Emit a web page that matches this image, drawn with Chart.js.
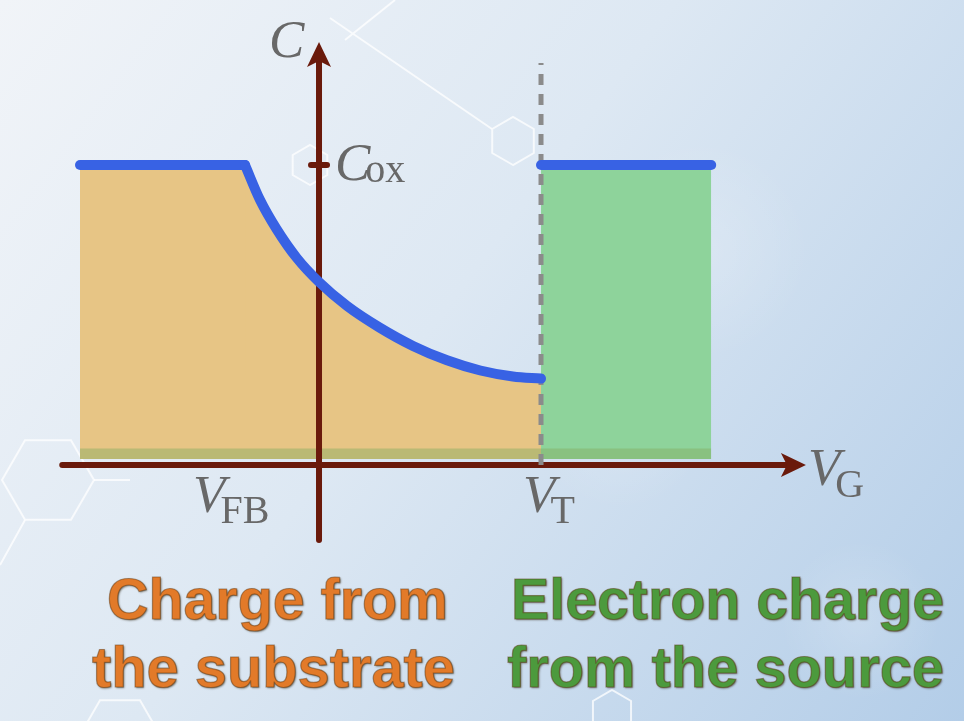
<!DOCTYPE html>
<html>
<head>
<meta charset="utf-8">
<script src="https://cdn.jsdelivr.net/npm/chart.js@4/dist/chart.umd.min.js"></script>
<style>
  html, body { margin: 0; padding: 0; overflow: hidden; background: #dfe9f3; }
  #cv { display: block; }
</style>
</head>
<body>
<canvas id="cv" width="964" height="721"></canvas>
<script>
// gate voltage positions (arbitrary units) and normalised capacitance C / Cox
const V_FB = -1.0;
const V_T = 3.0;
const C_OX = 1.0;

// accumulation plateau
const vgAccum = [-3.23, -1.0];
const cAccum = [1.0, 1.0];

// depletion curve
const vgDepl = [-1.0, -0.8, -0.57, -0.3, 0.0, 0.38, 0.82, 1.27, 1.73, 2.18, 2.62, 3.0];
const cDepl = [1.0, 0.885, 0.785, 0.69, 0.61, 0.53, 0.458, 0.397, 0.349, 0.315, 0.295, 0.288];

// inversion plateau (electrons from the source)
const vgInv = [3.0, 5.3];
const cInv = [1.0, 1.0];

const tickLabels = [
    { value: V_FB, main: 'V', sub: 'FB', dx: -52 },
    { value: V_T, main: 'V', sub: 'T', dx: -18 }
];
const captionLeft = ['Charge from', 'the substrate'];
const captionRight = ['Electron charge', 'from the source'];

const pts = (xs, ys) => xs.map((x, i) => ({ x: x, y: ys[i] }));

const AXIS = '#6a1a0b';
const MATH = '#686868';

const drawHex = (ctx, cx, cy, r, rot) => {
    ctx.beginPath();
    for (let i = 0; i < 6; i++) {
        const a = rot + i * Math.PI / 3;
        const px = cx + r * Math.cos(a), py = cy + r * Math.sin(a);
        if (i === 0) ctx.moveTo(px, py); else ctx.lineTo(px, py);
    }
    ctx.closePath();
    ctx.stroke();
};

const drawMath = (ctx, main, sub, x, base, subDy) => {
    ctx.fillStyle = MATH;
    ctx.textBaseline = 'alphabetic';
    ctx.textAlign = 'left';
    ctx.font = 'italic 53px "Liberation Serif", "DejaVu Serif", serif';
    ctx.fillText(main, x, base);
    const w = ctx.measureText(main).width;
    if (sub) {
        ctx.font = '40px "Liberation Serif", "DejaVu Serif", serif';
        ctx.fillText(sub, x + w - 5, base + subDy);
    }
};

const drawCaption = (ctx, text, left, right, base, color) => {
    ctx.save();
    ctx.font = 'bold 57px "Liberation Sans", Arial, sans-serif';
    const w = ctx.measureText(text).width;
    ctx.translate(left, base);
    ctx.scale((right - left) / w, 1);
    ctx.textAlign = 'left';
    ctx.textBaseline = 'alphabetic';
    ctx.shadowColor = 'rgba(40,30,10,0.6)';
    ctx.shadowBlur = 2;
    ctx.shadowOffsetX = 1;
    ctx.shadowOffsetY = 1;
    ctx.fillStyle = color;
    ctx.fillText(text, 0, 0);
    ctx.shadowColor = 'transparent';
    ctx.lineWidth = 1.2;
    ctx.strokeStyle = 'rgba(90,50,10,0.45)';
    ctx.strokeText(text, 0, 0);
    ctx.restore();
};

const decor = {
    id: 'decor',
    beforeDraw: (chart) => {
        const ctx = chart.ctx;
        const W = chart.width, H = chart.height;
        ctx.save();
        const g = ctx.createLinearGradient(0, 0, W, H);
        g.addColorStop(0, '#f1f4f8');
        g.addColorStop(0.45, '#dde8f3');
        g.addColorStop(1, '#b3cde8');
        ctx.fillStyle = g;
        ctx.fillRect(0, 0, W, H);
        // soft light spots
        [[700, 250, 110], [620, 420, 90], [860, 620, 80]].forEach(([x, y, r]) => {
            const rg = ctx.createRadialGradient(x, y, 0, x, y, r);
            rg.addColorStop(0, 'rgba(255,255,255,0.18)');
            rg.addColorStop(1, 'rgba(255,255,255,0)');
            ctx.fillStyle = rg;
            ctx.fillRect(x - r, y - r, 2 * r, 2 * r);
        });
        // faint hexagon network
        ctx.strokeStyle = 'rgba(255,255,255,0.75)';
        ctx.lineWidth = 2;
        drawHex(ctx, 513, 141, 24, Math.PI / 2);
        ctx.beginPath();
        ctx.moveTo(330, 18); ctx.lineTo(492, 129);
        ctx.moveTo(345, 40); ctx.lineTo(395, 0);
        ctx.stroke();
        drawHex(ctx, 310, 165, 20, Math.PI / 2);
        drawHex(ctx, 48, 480, 46, 0);
        ctx.beginPath();
        ctx.moveTo(94, 480); ctx.lineTo(130, 480);
        ctx.moveTo(25, 520); ctx.lineTo(0, 565);
        ctx.stroke();
        drawHex(ctx, 120, 735, 40, 0);
        drawHex(ctx, 612, 712, 22, Math.PI / 2);
        ctx.restore();
    },
    afterDatasetDraw: (chart, args) => {
        if (chart.data.datasets[args.index].label !== 'strip') return;
        // axes go above the filled areas but under the curve
        const ctx = chart.ctx;
        const xs = chart.scales.x, ys = chart.scales.y;
        const x0 = xs.getPixelForValue(0), y0 = ys.getPixelForValue(0);
        const xL = xs.getPixelForValue(-3.47), xTip = xs.getPixelForValue(6.58);
        const yB = ys.getPixelForValue(-0.25), yTip = ys.getPixelForValue(1.41);
        ctx.save();
        ctx.strokeStyle = AXIS;
        ctx.fillStyle = AXIS;
        ctx.lineWidth = 6;
        ctx.lineCap = 'round';
        ctx.beginPath();
        ctx.moveTo(xL, y0); ctx.lineTo(xTip - 14, y0);
        ctx.moveTo(x0, yB); ctx.lineTo(x0, yTip + 14);
        ctx.stroke();
        ctx.beginPath();
        ctx.moveTo(xTip, y0);
        ctx.lineTo(xTip - 25, y0 - 12);
        ctx.lineTo(xTip - 19, y0);
        ctx.lineTo(xTip - 25, y0 + 12);
        ctx.closePath();
        ctx.fill();
        ctx.beginPath();
        ctx.moveTo(x0, yTip);
        ctx.lineTo(x0 - 12, yTip + 25);
        ctx.lineTo(x0, yTip + 19);
        ctx.lineTo(x0 + 12, yTip + 25);
        ctx.closePath();
        ctx.fill();
        // Cox tick
        const yC = ys.getPixelForValue(C_OX);
        ctx.beginPath();
        ctx.moveTo(x0 - 8, yC); ctx.lineTo(x0 + 8, yC);
        ctx.stroke();
        ctx.restore();
    },
    afterDraw: (chart) => {
        const ctx = chart.ctx;
        const xs = chart.scales.x, ys = chart.scales.y;
        const x0 = xs.getPixelForValue(0), y0 = ys.getPixelForValue(0);
        ctx.save();
        drawMath(ctx, 'C', null, x0 - 50, ys.getPixelForValue(1.36), 0);
        drawMath(ctx, 'C', 'ox', x0 + 16, ys.getPixelForValue(C_OX) + 15, 2);
        tickLabels.forEach(t => {
            drawMath(ctx, t.main, t.sub, xs.getPixelForValue(t.value) + t.dx, y0 + 47, 11);
        });
        drawMath(ctx, 'V', 'G', xs.getPixelForValue(6.58) + 2, y0 + 20, 12);
        drawCaption(ctx, captionLeft[0], 107, 448, 619, '#e27a29');
        drawCaption(ctx, captionLeft[1], 92, 455, 687, '#e27a29');
        drawCaption(ctx, captionRight[0], 511, 944, 619, '#4c9a3d');
        drawCaption(ctx, captionRight[1], 507, 944, 687, '#4c9a3d');
        ctx.restore();
    }
};

const base = { showLine: true, pointRadius: 0, pointHoverRadius: 0, borderWidth: 0 };

new Chart(document.getElementById('cv').getContext('2d'), {
    type: 'scatter',
    data: {
        datasets: [
            Object.assign({}, base, {
                label: 'curve', order: 0,
                data: pts(vgDepl, cDepl),
                borderColor: '#3862e4', borderWidth: 10,
                borderCapStyle: 'round', borderJoinStyle: 'round',
                cubicInterpolationMode: 'monotone', fill: false
            }),
            Object.assign({}, base, {
                label: 'accum', order: 0,
                data: pts(vgAccum, cAccum),
                borderColor: '#3862e4', borderWidth: 10,
                borderCapStyle: 'round', fill: false
            }),
            Object.assign({}, base, {
                label: 'inversion', order: 0,
                data: pts(vgInv, cInv),
                borderColor: '#3862e4', borderWidth: 10,
                borderCapStyle: 'round', fill: false
            }),
            Object.assign({}, base, {
                label: 'VT line', order: 1,
                data: [{ x: V_T, y: 0 }, { x: V_T, y: 1.34 }],
                borderColor: '#8b8b8b', borderWidth: 5,
                borderDash: [11, 9], fill: false
            }),
            Object.assign({}, base, {
                label: 'strip', order: 5,
                data: [{ x: vgAccum[0], y: 0.055 }, { x: vgInv[1], y: 0.055 }],
                backgroundColor: 'rgba(130,170,95,0.45)',
                fill: { value: 0.02 }
            }),
            Object.assign({}, base, {
                label: 'green', order: 6,
                data: pts(vgInv, cInv),
                backgroundColor: '#8ed39b',
                fill: { value: 0.02 }
            }),
            Object.assign({}, base, {
                label: 'orangeCurve', order: 7,
                data: pts(vgDepl, cDepl),
                cubicInterpolationMode: 'monotone',
                backgroundColor: '#e7c585',
                fill: { value: 0.02 }
            }),
            Object.assign({}, base, {
                label: 'orangeFlat', order: 8,
                data: [{ x: vgAccum[0], y: 1 }, { x: vgAccum[1] + 0.02, y: 1 }],
                backgroundColor: '#e7c585',
                fill: { value: 0.02 }
            })
        ]
    },
    options: {
        responsive: false,
        devicePixelRatio: 1,
        animation: false,
        layout: { padding: 0 },
        scales: {
            x: { type: 'linear', display: false, min: -4.311, max: 8.716 },
            y: { type: 'linear', display: false, min: -0.8533, max: 1.55 }
        },
        plugins: {
            legend: { display: false },
            tooltip: { enabled: false }
        }
    },
    plugins: [decor]
});
</script>
</body>
</html>
